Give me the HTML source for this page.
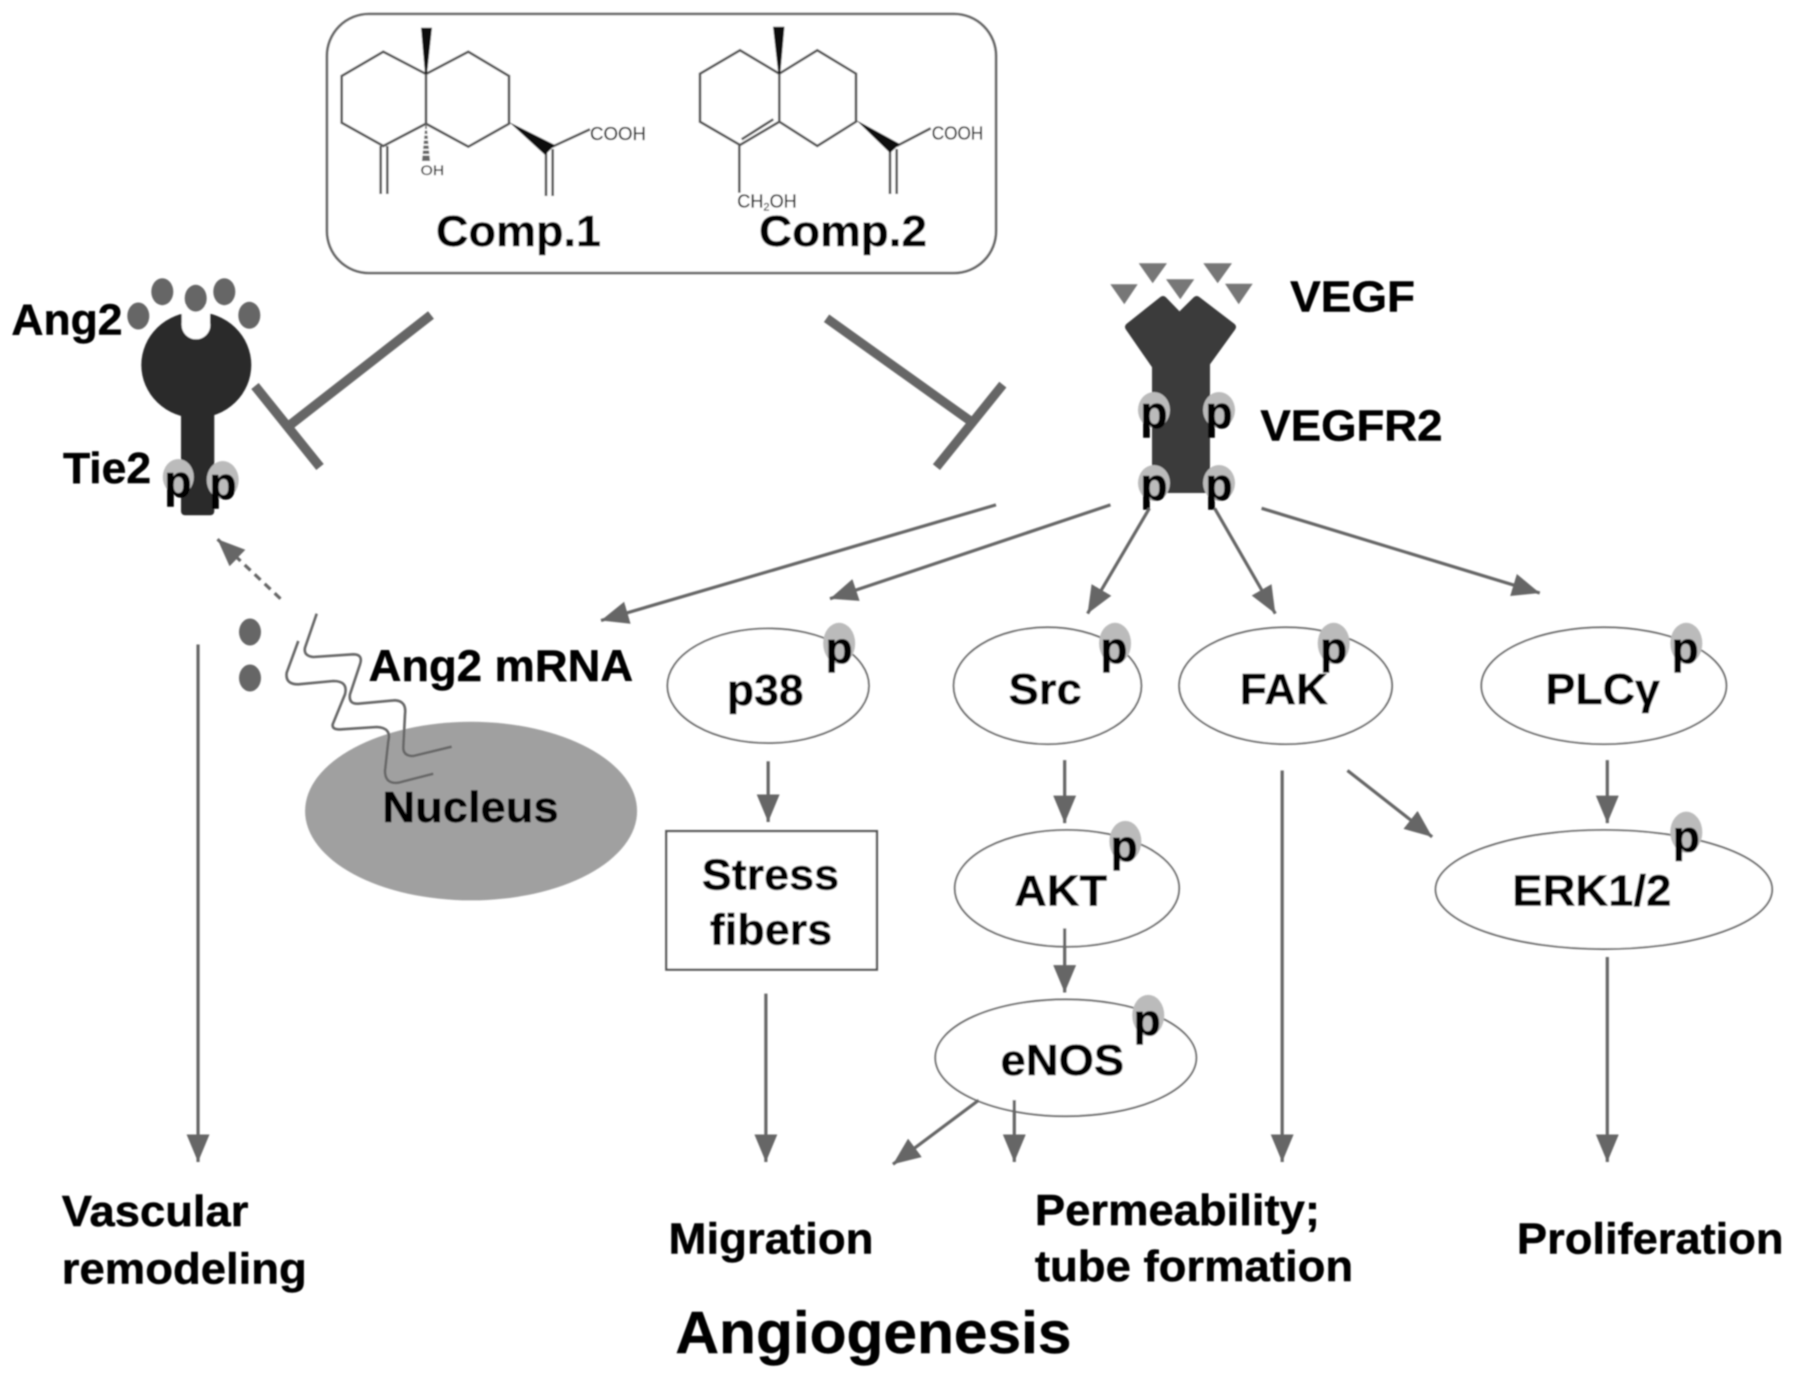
<!DOCTYPE html>
<html>
<head>
<meta charset="utf-8">
<style>
html,body{margin:0;padding:0;background:#fff;width:1795px;height:1380px;overflow:hidden}
svg{display:block}
text{font-family:"Liberation Sans",sans-serif;font-weight:bold;fill:#000;stroke:#000;stroke-width:0.4}
.p{font-size:39px;text-anchor:middle}
.rp{font-size:45px;text-anchor:middle}
.e{fill:#fff;stroke:#666;stroke-width:1.6}
.a{stroke:#666;stroke-width:2.8;fill:none}
.m{stroke:#555;stroke-width:2.6;fill:none}
.pc{fill:#bbb}
.thin{font-weight:normal;fill:#222;stroke:#222;stroke-width:0.2}
</style>
</head>
<body>
<svg width="1795" height="1380" viewBox="0 0 1795 1380" xmlns="http://www.w3.org/2000/svg">
<defs>
<marker id="ah" markerUnits="userSpaceOnUse" markerWidth="26" markerHeight="22" refX="24" refY="10" orient="auto">
<path d="M0,0 L24,10 L0,20 Z" fill="#666"/>
</marker>
<filter id="b" x="-2%" y="-2%" width="104%" height="104%"><feGaussianBlur stdDeviation="0.7"/></filter>
</defs>
<rect width="1795" height="1380" fill="#fff"/>
<g filter="url(#b)">

<!-- Compound box -->
<rect x="327" y="14" width="669" height="259" rx="42" ry="42" fill="#fff" stroke="#666" stroke-width="2.6"/>

<!-- Comp 1 -->
<path class="m" d="M426,74 L383.3,51.7 L341.7,76 L341.7,122.7 L383.3,146 L426,123.7 L426,74 M426,74 L468.3,51.7 L509,76 L509,123.7 L468.3,146.7 L426,123.7 M380.7,146 L380.7,194 M387.3,146 L387.3,194 M546,149 L546,196 M552.7,149 L552.7,196 M551.7,147 L590,129.3"/>
<polygon points="421,27.7 432,27.7 427,74 425,74" fill="#111"/>
<polygon points="509,122 555,145 545,155" fill="#111"/>
<polygon points="425.5,124 426.5,124 430,161 422,161" fill="#666"/>
<g fill="#fff"><rect x="420" y="129" width="12" height="1.5"/><rect x="420" y="134" width="12" height="1.5"/><rect x="420" y="139" width="12" height="1.5"/><rect x="420" y="144" width="12" height="1.5"/><rect x="420" y="149" width="12" height="1.5"/><rect x="420" y="154" width="12" height="1.5"/></g>
<text class="thin" x="420.7" y="175" font-size="14" textLength="23.5" lengthAdjust="spacingAndGlyphs">OH</text>
<text class="thin" x="590" y="140" font-size="18" textLength="56" lengthAdjust="spacingAndGlyphs">COOH</text>

<!-- Comp 2 -->
<path class="m" d="M779.3,73.7 L740,50.3 L700,73.7 L700,121.7 L740,145 L779.3,121.7 L779.3,73.7 M779.3,73.7 L817.3,50.3 L856,73.7 L856,121.7 L817.3,146 L779.3,121.7 M741.7,139.3 L773.3,119.3 M739.3,145 L739.3,192.7 M890,149 L890,194 M896.7,149 L896.7,194 M896.7,146 L930.7,128.3"/>
<polygon points="773,26.7 784.5,26.7 780.3,73.7 778.3,73.7" fill="#111"/>
<polygon points="856,120 900,144 890,153" fill="#111"/>
<text class="thin" x="931.7" y="139.3" font-size="18" textLength="51.6" lengthAdjust="spacingAndGlyphs">COOH</text>
<text class="thin" x="737.3" y="207.7" font-size="18" textLength="59.4" lengthAdjust="spacingAndGlyphs">CH<tspan font-size="11" dy="3">2</tspan><tspan dy="-3">OH</tspan></text>

<text x="436" y="246" font-size="44" textLength="165" lengthAdjust="spacingAndGlyphs">Comp.1</text>
<text x="759" y="246" font-size="44" textLength="168" lengthAdjust="spacingAndGlyphs">Comp.2</text>

<!-- Inhibition bars -->
<g stroke="#666" stroke-width="9.5" fill="none">
<path d="M431,315 L290,425"/><path d="M255,386 L320,467"/>
</g>

<!-- Tie2 -->
<ellipse cx="196.3" cy="365" rx="55" ry="53" fill="#2a2a2a"/>
<rect x="181" y="400" width="33.3" height="115.3" rx="4" fill="#2a2a2a"/>
<circle cx="196" cy="325" r="14.3" fill="#fff"/>
<rect x="181.7" y="305" width="28.3" height="20" fill="#fff"/>
<g fill="#666">
<ellipse cx="138.3" cy="316" rx="11" ry="13.5"/>
<ellipse cx="162.3" cy="291.7" rx="11" ry="13.5"/>
<ellipse cx="195.7" cy="298.3" rx="11" ry="13.5"/>
<ellipse cx="224.3" cy="291.7" rx="11" ry="13.5"/>
<ellipse cx="249.3" cy="315.3" rx="11" ry="13.5"/>
<ellipse cx="250" cy="632" rx="11" ry="13.5"/>
<ellipse cx="250" cy="678" rx="11" ry="13.5"/>
</g>
<ellipse class="pc" cx="178.3" cy="477" rx="15.5" ry="18"/>
<ellipse class="pc" cx="222.7" cy="480" rx="16" ry="19"/>
<text class="rp" x="178" y="497">p</text>
<text class="rp" x="223" y="499">p</text>

<!-- VEGFR2 -->
<polygon points="1163,300 1179.5,317 1196.7,300 1232,327 1206,363 1206,489 1156,489 1156,366 1129,327" fill="#3a3a3a" stroke="#3a3a3a" stroke-width="8" stroke-linejoin="round"/>
<g fill="#777">
<polygon points="1110.3,284.3 1137.7,284.3 1124.3,304.3"/>
<polygon points="1138.7,263.3 1167,263.3 1152.7,283.3"/>
<polygon points="1166,279.3 1194.3,279.3 1180.3,299.3"/>
<polygon points="1203.3,263.3 1232,263.3 1217.7,283.3"/>
<polygon points="1225,283.7 1252.7,283.7 1238.7,304.3"/>
</g>
<ellipse class="pc" cx="1154" cy="410" rx="16" ry="18"/>
<ellipse class="pc" cx="1219" cy="410" rx="16" ry="18"/>
<ellipse class="pc" cx="1154" cy="483" rx="16" ry="18"/>
<ellipse class="pc" cx="1219" cy="483" rx="16" ry="18"/>
<text class="rp" x="1154" y="428">p</text>
<text class="rp" x="1219" y="428">p</text>
<text class="rp" x="1154" y="500">p</text>
<text class="rp" x="1219" y="500">p</text>

<!-- scaled group: nucleus -->
<g transform="scale(1.1448)">
<ellipse cx="411.5" cy="708.5" rx="145" ry="78" fill="#a0a0a0"/>
</g>

<!-- mRNA strands -->
<path d="M316.7,613.7 L305,647.7 Q303.3,656 313.3,657 L353.3,654.3 Q363.3,654.3 360,664.3 L350,694.3 Q348.3,704.3 358.3,703.7 L395,700.3 Q406.7,701 405,714.3 L403.3,747.7 Q403.3,756 413.3,756 L451.7,746.7" fill="none" stroke="#666" stroke-width="2.6"/>
<path d="M298.3,641 L286.7,672.7 Q285,684.3 298.3,684.3 L333.3,681 Q348.3,681 345,694.3 L332.7,724.3 Q331.7,730.3 341.7,729.3 L376.7,727 Q391.7,727.7 388.3,741 L385,771 Q385,784.3 398.3,782.7 L433.3,773.7" fill="none" stroke="#666" stroke-width="2.6"/>

<g transform="scale(1.1448) translate(0,1)">
<g stroke="#666" stroke-width="8" fill="none">
<path d="M722,277 L848,367"/><path d="M876,335 L818,407"/>
</g>

<text x="10" y="291" font-size="38" textLength="97" lengthAdjust="spacingAndGlyphs">Ang2</text>
<text x="55" y="421" font-size="38" textLength="77" lengthAdjust="spacingAndGlyphs">Tie2</text>
<text x="1127" y="271" font-size="38" textLength="109" lengthAdjust="spacingAndGlyphs">VEGF</text>
<text x="1101" y="384" font-size="38" textLength="159" lengthAdjust="spacingAndGlyphs">VEGFR2</text>
<text x="322" y="594" font-size="39" textLength="231" lengthAdjust="spacingAndGlyphs">Ang2 mRNA</text>
<text x="334" y="717" font-size="38" textLength="154" lengthAdjust="spacingAndGlyphs">Nucleus</text>

<!-- Nodes -->
<ellipse class="e" cx="671" cy="598" rx="88" ry="50"/>
<ellipse class="e" cx="915" cy="598" rx="82" ry="51"/>
<ellipse class="e" cx="1123" cy="598" rx="93" ry="51"/>
<ellipse class="e" cx="1401" cy="598" rx="107" ry="51"/>
<ellipse class="e" cx="932" cy="775" rx="98" ry="51"/>
<ellipse class="e" cx="931" cy="923" rx="114" ry="51"/>
<ellipse class="e" cx="1401" cy="776" rx="147" ry="52"/>
<rect x="582" y="725" width="184" height="121" fill="#fff" stroke="#555" stroke-width="2"/>

<ellipse class="pc" cx="733" cy="561" rx="14" ry="18"/>
<ellipse class="pc" cx="974" cy="561" rx="14" ry="18"/>
<ellipse class="pc" cx="1165" cy="561" rx="14" ry="18"/>
<ellipse class="pc" cx="1473" cy="561" rx="14" ry="18"/>
<ellipse class="pc" cx="983" cy="734" rx="14" ry="18"/>
<ellipse class="pc" cx="1003" cy="886" rx="14" ry="18"/>
<ellipse class="pc" cx="1473" cy="726" rx="14" ry="18"/>

<text class="p" x="733" y="578">p</text>
<text class="p" x="973" y="578">p</text>
<text class="p" x="1165" y="578">p</text>
<text class="p" x="1472" y="578">p</text>
<text class="p" x="982" y="751">p</text>
<text class="p" x="1002" y="903">p</text>
<text class="p" x="1473" y="743">p</text>

<text x="635" y="615" font-size="38" textLength="67" lengthAdjust="spacingAndGlyphs">p38</text>
<text x="881" y="614" font-size="38" textLength="64" lengthAdjust="spacingAndGlyphs">Src</text>
<text x="1083" y="614" font-size="38" textLength="77" lengthAdjust="spacingAndGlyphs">FAK</text>
<text x="1350" y="614" font-size="38" textLength="100" lengthAdjust="spacingAndGlyphs">PLCγ</text>
<text x="613" y="776" font-size="38" textLength="120" lengthAdjust="spacingAndGlyphs">Stress</text>
<text x="620" y="824" font-size="38" textLength="107" lengthAdjust="spacingAndGlyphs">fibers</text>
<text x="886" y="790" font-size="38" textLength="81" lengthAdjust="spacingAndGlyphs">AKT</text>
<text x="874" y="938" font-size="38" textLength="108" lengthAdjust="spacingAndGlyphs">eNOS</text>
<text x="1321" y="790" font-size="38" textLength="139" lengthAdjust="spacingAndGlyphs">ERK1/2</text>

<!-- Arrows -->
<line class="a" x1="870" y1="440" x2="525" y2="541" marker-end="url(#ah)"/>
<line class="a" x1="970" y1="440" x2="725" y2="522" marker-end="url(#ah)"/>
<line class="a" x1="1004" y1="443" x2="950" y2="535" marker-end="url(#ah)"/>
<line class="a" x1="1061" y1="443" x2="1114" y2="535" marker-end="url(#ah)"/>
<line class="a" x1="1102" y1="443" x2="1345" y2="517" marker-end="url(#ah)"/>
<line class="a" x1="671" y1="664" x2="671" y2="717" marker-end="url(#ah)"/>
<line class="a" x1="930" y1="663" x2="930" y2="718" marker-end="url(#ah)"/>
<line class="a" x1="1404" y1="663" x2="1404" y2="718" marker-end="url(#ah)"/>
<line class="a" x1="930" y1="810" x2="930" y2="866" marker-end="url(#ah)"/>
<line class="a" x1="1120" y1="672" x2="1120" y2="1014" marker-end="url(#ah)"/>
<line class="a" x1="1177" y1="672" x2="1251" y2="730" marker-end="url(#ah)"/>
<line class="a" x1="1404" y1="835" x2="1404" y2="1014" marker-end="url(#ah)"/>
<line class="a" x1="669" y1="867" x2="669" y2="1014" marker-end="url(#ah)"/>
<line class="a" x1="173" y1="562" x2="173" y2="1014" marker-end="url(#ah)"/>
<line class="a" x1="855" y1="960" x2="780" y2="1016" marker-end="url(#ah)"/>
<line class="a" x1="886" y1="960" x2="886" y2="1014" marker-end="url(#ah)"/>
<line class="a" x1="245" y1="522" x2="190" y2="470" stroke-dasharray="7 5" marker-end="url(#ah)"/>

<!-- Outcomes -->
<text x="54" y="1070" font-size="38" textLength="163" lengthAdjust="spacingAndGlyphs">Vascular</text>
<text x="54" y="1120" font-size="38" textLength="214" lengthAdjust="spacingAndGlyphs">remodeling</text>
<text x="584" y="1094" font-size="38" textLength="179" lengthAdjust="spacingAndGlyphs">Migration</text>
<text x="904" y="1069" font-size="38" textLength="249" lengthAdjust="spacingAndGlyphs">Permeability;</text>
<text x="904" y="1118" font-size="38" textLength="278" lengthAdjust="spacingAndGlyphs">tube formation</text>
<text x="1325" y="1094" font-size="38" textLength="233" lengthAdjust="spacingAndGlyphs">Proliferation</text>
<text x="590" y="1181" font-size="52" textLength="346" lengthAdjust="spacingAndGlyphs">Angiogenesis</text>
</g>
</g>
</svg>
</body>
</html>
